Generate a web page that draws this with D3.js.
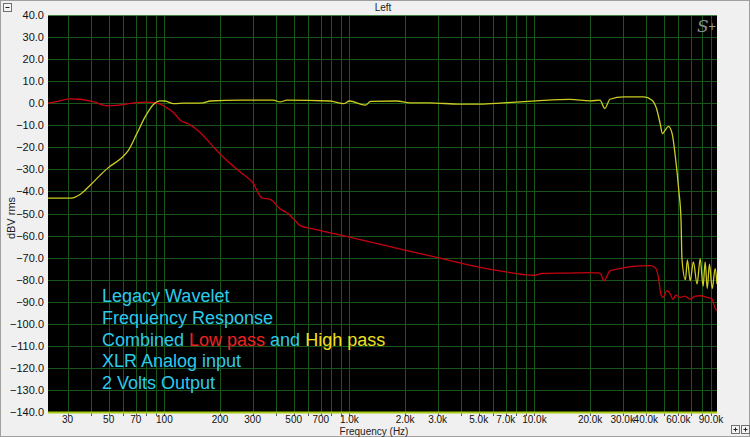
<!DOCTYPE html>
<html><head><meta charset="utf-8">
<script src="https://cdn.jsdelivr.net/npm/d3@7"></script>
<style>
html,body{margin:0;padding:0;background:#f0f0f0;}
svg{display:block;font-family:"Liberation Sans",Arial,sans-serif;}
</style></head>
<body>
<svg id="chart" width="750" height="437"></svg>
<script>
// ---- data ----
const lowPassFreq = [23.5,27,31,35,40,43,47,50,55,60,70,80,90,95,103,112,122,137,155,184,217,257,303,336,373,422,468,498,542,637,1010,2040,3090,5080,7000,9000,10000,11000,15000,20000,22600,23800,25600,29000,34100,42200,44900,46800,48200,49600,52000,54200,56200,58000,61400,65000,69500,74000,78700,85500,91000,94800,97000];
const lowPassDb   = [0,1.0,2.0,1.8,1.0,0.3,-1.0,-1.2,-1.0,-0.6,0.3,0.5,0.1,-0.4,-2.1,-4.2,-7.7,-9.7,-13,-19.8,-25.9,-31.2,-36.5,-42.9,-43.6,-47.9,-50.1,-52.4,-55.5,-57,-60.8,-66.8,-70.2,-74.4,-76.5,-77.8,-78,-77.2,-77,-76.8,-77,-80.5,-76,-75,-74,-73.6,-74.5,-79,-86.5,-88,-85,-86.5,-89,-87,-88,-87.5,-88.8,-87.5,-87.3,-88,-88.8,-93,-94];

const highPassFreq = [23.5,31.5,35,39.6,44.9,49.8,58.8,63.9,71,78.7,87.3,94.8,100.8,112,127,162,177,257,387,422,460,785,935,1000,1220,1300,1800,2130,2700,3960,5100,6800,10200,15600,20000,22600,24000,25600,30500,39000,43200,45700,47800,49200,50800,53000,55500,57800,60300,62000,62700,65500,67100,69500,72300,75700,78700,81600,83700,85900,88300,91400,94800,97000];
const highPassDb   = [-43,-43,-41.4,-37.3,-32.7,-29.2,-24.7,-21.4,-13.8,-6.2,-0.6,1.05,1.0,-0.2,0,0.2,1.0,1.4,1.4,0.6,1.4,1.0,-0.2,1.0,-0.9,0.8,1.0,0.2,0.2,-0.45,-0.45,0.15,1.05,1.7,1.05,1.4,-2.4,1.8,2.9,2.9,1.4,-2.4,-9.2,-13.8,-12.3,-10.5,-13.8,-24.4,-39.5,-53,-70.5,-80,-71,-80.5,-72,-82,-70.5,-83,-72,-84,-73,-84,-75,-82];

const yTicks = [40,30,20,10,0,-10,-20,-30,-40,-50,-60,-70,-80,-90,-100,-110,-120,-130,-140];
const xTickValues = [30,50,70,100,200,300,500,700,1000,2000,3000,5000,7000,10000,20000,30000,40000,60000,90000];
const xTickLabels = ["30","50","70","100","200","300","500","700","1.0k","2.0k","3.0k","5.0k","7.0k","10.0k","20.0k","30.0k","40.0k","60.0k","90.0k"];
const legendLines = [
  [{t:"Legacy Wavelet",c:"cyan"}],
  [{t:"Frequency Response",c:"cyan"}],
  [{t:"Combined ",c:"cyan"},{t:"Low pass",c:"red"},{t:" and ",c:"cyan"},{t:"High pass",c:"yellow"}],
  [{t:"XLR Analog input",c:"cyan"}],
  [{t:"2 Volts Output",c:"cyan"}]
];
const textColors = {cyan:"#2ccbeb", red:"#f02020", yellow:"#f0e020"};

// ---- layout ----
const W = 750, H = 437;
const L = 48, R = 717, T = 15, B = 412;
const svg = d3.select("#chart");

svg.append("rect").attr("x",0.5).attr("y",0.5).attr("width",W-1).attr("height",H-1)
  .attr("fill","#f0f0f0").attr("stroke","#a0a0a0");

const x = d3.scaleLog().domain([23.5, 97000]).range([L, R]);
const y = d3.scaleLinear().domain([-140, 40]).range([B, T]);

// plot background
svg.append("rect").attr("x",L).attr("y",T).attr("width",R-L).attr("height",B-T).attr("fill","#000");

// grid values
const gridX = [];
[10,100,1000,10000].forEach(d => { for (let k=1;k<=9;k++){ const v=d*k; if (v>=x.domain()[0] && v<=x.domain()[1]) gridX.push(v);} });

const g = svg.append("g");
g.selectAll("line.vg").data(gridX).enter().append("line")
  .attr("x1",d=>Math.round(x(d))+0.5).attr("x2",d=>Math.round(x(d))+0.5)
  .attr("y1",T).attr("y2",B).attr("stroke","#195619").attr("stroke-width",1);
g.selectAll("line.hg").data(yTicks).enter().append("line")
  .attr("x1",L).attr("x2",R)
  .attr("y1",d=>Math.round(y(d))+0.5).attr("y2",d=>Math.round(y(d))+0.5)
  .attr("stroke","#195619").attr("stroke-width",1);

// top edge
svg.append("line").attr("x1",L).attr("x2",R).attr("y1",T+0.5).attr("y2",T+0.5).attr("stroke","#3f7f3f");
// bottom axis line
svg.append("line").attr("x1",L).attr("x2",R).attr("y1",B+0.5).attr("y2",B+0.5).attr("stroke","#a6cc10").attr("stroke-width",2);

// x tick marks
svg.selectAll("line.xt").data(gridX).enter().append("line")
  .attr("x1",d=>Math.round(x(d))+0.5).attr("x2",d=>Math.round(x(d))+0.5)
  .attr("y1",B+1.5).attr("y2",B+4).attr("stroke","#555");

// y labels
svg.selectAll("text.yl").data(yTicks).enter().append("text")
  .attr("x",44).attr("y",d=>y(d)+4).attr("text-anchor","end")
  .attr("font-size",11).attr("fill","#111").text(d=>d3.format(".1f")(d));

// x labels
svg.selectAll("text.xl").data(xTickValues).enter().append("text")
  .attr("x",d=>x(d)).attr("y",423).attr("text-anchor","middle")
  .attr("font-size",10).attr("fill","#111").text((d,i)=>xTickLabels[i]);

// axis titles
svg.append("text").attr("x",374).attr("y",434.5).attr("text-anchor","middle")
  .attr("font-size",10).attr("fill","#222").text("Frequency (Hz)");
svg.append("text").attr("transform","translate(15,218) rotate(-90)").attr("text-anchor","middle")
  .attr("font-size",11).attr("fill","#222").text("dBV rms");
svg.append("text").attr("x",383).attr("y",11).attr("text-anchor","middle")
  .attr("font-size",10).attr("fill","#222").text("Left");

// S+ logo
svg.append("text").attr("x",697).attr("y",32).attr("font-family","'DejaVu Serif','Liberation Serif',serif")
  .attr("font-style","italic").attr("font-size",17).attr("fill","#8a8a8a").text("S");
svg.append("text").attr("x",708).attr("y",30).attr("font-family","'DejaVu Sans',sans-serif")
  .attr("font-size",10).attr("fill","#9a9a9a").text("+");

// buttons
function button(bx,by,sym){
  svg.append("rect").attr("x",bx+0.5).attr("y",by+0.5).attr("width",8).attr("height",8)
    .attr("fill","#f4f4f4").attr("stroke","#707070");
  svg.append("line").attr("x1",bx+2.5).attr("x2",bx+6.5).attr("y1",by+4.5).attr("y2",by+4.5).attr("stroke","#222");
  if (sym==="+") svg.append("line").attr("x1",bx+4.5).attr("x2",bx+4.5).attr("y1",by+2.5).attr("y2",by+6.5).attr("stroke","#222");
}
button(3,3,"-");
button(731,425,"+");
button(741,425,"+");

// curves
svg.append("clipPath").attr("id","clip").append("rect").attr("x",L).attr("y",T).attr("width",R-L).attr("height",B-T);
const line = d3.line().x(d=>x(d[0])).y(d=>y(d[1])).curve(d3.curveMonotoneX);
const lowData = lowPassFreq.map((f,i)=>[f,lowPassDb[i]]);
const highData = highPassFreq.map((f,i)=>[f,highPassDb[i]]);
const curves = svg.append("g").attr("clip-path","url(#clip)");
curves.append("path").datum(lowData).attr("d",line).attr("fill","none").attr("stroke","#c60010").attr("stroke-width",1.3);
curves.append("path").datum(highData).attr("d",line).attr("fill","none").attr("stroke","#cccc22").attr("stroke-width",1.3);

// legend text
const lg = svg.append("g");
legendLines.forEach((parts,i)=>{
  const t = lg.append("text").attr("x",102).attr("y",302 + i*21.8).attr("font-size",18);
  parts.forEach(p=>t.append("tspan").attr("fill",textColors[p.c]).text(p.t));
});
</script>
</body></html>
